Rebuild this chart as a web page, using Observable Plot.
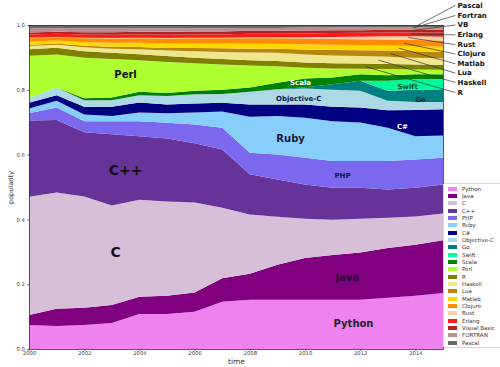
<!DOCTYPE html>
<html><head><meta charset="utf-8">
<script src="https://cdn.jsdelivr.net/npm/d3@7"></script>
<script src="https://cdn.jsdelivr.net/npm/@observablehq/plot@0.6"></script>
<style>
body{margin:0;background:#fff;}
#wrap{position:relative;width:500px;height:367px;font-family:"DejaVu Sans",sans-serif;overflow:hidden;}
#legend{position:absolute;left:443px;top:183px;width:60px;height:165px;background:#fff;border:1px solid #d8d8d8;border-radius:2px;box-sizing:border-box;}
.row{position:absolute;left:4px;height:7px;display:flex;align-items:center;font-size:5.5px;color:#333;white-space:nowrap;}
.sw{width:9px;height:4px;margin-right:5px;flex:none;}
</style></head><body><div id="wrap"></div>
<script>
const years = [2000,2001,2002,2003,2004,2005,2006,2007,2008,2009,2010,2011,2012,2013,2014,2015];
const languages = ["Python","Java","C","C++","PHP","Ruby","C#","Objective-C","Go","Swift","Scala","Perl","R","Haskell","Lua","Matlab","Clojure","Rust","Erlang","Visual Basic","FORTRAN","Pascal"];
const colors = ["#ee82ee","#800080","#d8bfd8","#663399","#7b68ee","#87cefa","#000080","#add8e6","#008080","#00fa9a","#008000","#adff2f","#808000","#f0e68c","#b8860b","#ffd700","#ff8c00","#ffcfa8","#ff1a1a","#b22222","#bc8f8f","#696969"];

const python  = [0.074,0.071,0.074,0.080,0.108,0.108,0.115,0.146,0.152,0.152,0.152,0.152,0.152,0.158,0.164,0.173];
const java    = [0.031,0.053,0.053,0.056,0.053,0.056,0.059,0.072,0.080,0.108,0.129,0.138,0.146,0.154,0.158,0.163];
const c       = [0.365,0.359,0.344,0.307,0.300,0.291,0.278,0.218,0.183,0.148,0.121,0.109,0.104,0.093,0.087,0.082];
const cpp     = [0.235,0.224,0.198,0.220,0.196,0.195,0.183,0.180,0.124,0.115,0.106,0.099,0.096,0.087,0.089,0.090];
const php     = [0.023,0.038,0.034,0.040,0.046,0.048,0.058,0.067,0.067,0.077,0.082,0.082,0.082,0.088,0.087,0.082];
const ruby    = [0.014,0.021,0.021,0.016,0.027,0.030,0.037,0.050,0.111,0.119,0.124,0.123,0.119,0.103,0.072,0.069];
const csharp  = [0.018,0.017,0.024,0.029,0.031,0.027,0.028,0.027,0.038,0.036,0.041,0.045,0.046,0.054,0.081,0.081];
const objc    = [0.015,0.024,0.020,0.020,0.022,0.026,0.028,0.027,0.039,0.047,0.049,0.052,0.052,0.029,0.024,0.022];
const go      = [0,0,0,0,0,0,0,0,0,0,0.004,0.017,0.031,0.031,0.038,0.040];
const swift   = [0,0,0,0,0,0,0,0,0,0,0,0,0,0.031,0.033,0.031];
const scala   = [0,0,0.006,0.008,0.011,0.009,0.011,0.013,0.013,0.020,0.027,0.021,0.020,0.017,0.015,0.015];
const perl    = [0.130,0.102,0.125,0.119,0.097,0.096,0.085,0.078,0.068,0.051,0.033,0.028,0.017,0.019,0.015,0.014];
const rlang   = [0.020,0.021,0.020,0.019,0.019,0.018,0.017,0.017,0.016,0.016,0.016,0.016,0.016,0.016,0.015,0.015];
const haskell = [0.010,0.009,0.012,0.013,0.015,0.017,0.020,0.022,0.024,0.025,0.025,0.024,0.023,0.022,0.021,0.020];
const lua     = [0.004,0.004,0.005,0.006,0.007,0.008,0.010,0.011,0.012,0.013,0.015,0.017,0.018,0.019,0.020,0.020];
const matlab  = [0.010,0.009,0.011,0.012,0.013,0.014,0.015,0.015,0.015,0.015,0.016,0.016,0.016,0.016,0.016,0.016];
const clojure = [0.010,0.009,0.012,0.013,0.014,0.015,0.015,0.016,0.017,0.017,0.018,0.018,0.018,0.018,0.019,0.019];
const rust    = [0.002,0.002,0.002,0.002,0.002,0.002,0.002,0.002,0.003,0.003,0.004,0.006,0.008,0.010,0.011,0.012];
const erlang  = [0.010,0.010,0.010,0.010,0.010,0.010,0.010,0.010,0.011,0.011,0.012,0.012,0.012,0.012,0.012,0.013];
const vb      = [0.006,0.006,0.007,0.008,0.008,0.009,0.009,0.009,0.009,0.009,0.009,0.009,0.008,0.008,0.008,0.008];
const fortran = [0.013,0.011,0.012,0.012,0.011,0.011,0.010,0.010,0.009,0.009,0.009,0.008,0.008,0.008,0.008,0.008];
const pascal  = [0.010,0.010,0.010,0.010,0.010,0.010,0.010,0.010,0.009,0.009,0.008,0.008,0.008,0.007,0.007,0.007];

const xTicks = [2000,2002,2004,2006,2008,2010,2012,2014];
const yTicks = [0,0.2,0.4,0.6,0.8,1.0];

// in-area labels (data coordinates)
const areaLabels = [
  {t:"C++", x:2003.48, y:0.551, size:"L", fill:"#111"},
  {t:"C", x:2003.12, y:0.300, size:"L", fill:"#111"},
  {t:"Perl", x:2003.48, y:0.848, size:"M", fill:"#111"},
  {t:"Ruby", x:2009.46, y:0.650, size:"M", fill:"#1a1a3a"},
  {t:"Java", x:2011.52, y:0.220, size:"M", fill:"#2a0030"},
  {t:"Python", x:2011.74, y:0.080, size:"M", fill:"#222"},
  {t:"Scala", x:2009.82, y:0.824, size:"S", fill:"#fff"},
  {t:"Objective-C", x:2009.75, y:0.774, size:"S", fill:"#0b1a4a"},
  {t:"PHP", x:2011.34, y:0.536, size:"S", fill:"#0b1a4a"},
  {t:"C#", x:2013.51, y:0.687, size:"S", fill:"#fff"},
  {t:"Swift", x:2013.70, y:0.811, size:"S", fill:"#064d2a"},
  {t:"Go", x:2014.17, y:0.771, size:"S", fill:"#062f30"}
];

// callouts on the right
const calloutNames = ["Pascal","Fortran","VB","Erlang","Rust","Clojure","Matlab","Lua","Haskell","R"];
const calloutLabelY = [1.062,1.031,1.0015,0.971,0.941,0.912,0.882,0.853,0.824,0.793];
const calloutTargetX = [2013.99,2013.91,2013.88,2013.84,2013.73,2013.55,2013.37,2013.08,2012.64,2012.17];
const calloutTargetY = [0.9969,0.9923,0.9845,0.9737,0.9628,0.9458,0.9303,0.9133,0.8932,0.8731];
const calloutLineX = 2015.43, calloutTextX = 2015.51;

const seriesValues = [python,java,c,cpp,php,ruby,csharp,objc,go,swift,scala,perl,rlang,haskell,lua,matlab,clojure,rust,erlang,vb,fortran,pascal];
const table = [];
seriesValues.forEach((vals,i)=>years.forEach((yr,j)=>table.push({year:yr, lang:languages[i], value:vals[j]})));

const callouts = calloutNames.map((n,i)=>({name:n, ly:calloutLabelY[i], tx:calloutTargetX[i], ty:calloutTargetY[i]}));

const chart = Plot.plot({
  width:500, height:367,
  marginLeft:29, marginRight:57, marginTop:25, marginBottom:18,
  x:{domain:[2000,2015]},
  y:{domain:[0,1]},
  color:{domain:languages, range:colors},
  style:{fontFamily:"DejaVu Sans, sans-serif", background:"white"},
  marks:[
    Plot.areaY(table, {x:"year", y:"value", z:"lang", fill:"lang", curve:"linear"}),
    Plot.frame({stroke:"#333", strokeWidth:0.8}),
    Plot.axisX({ticks:xTicks, tickFormat:d=>String(d), fontSize:5.3, tickSize:1.5, tickPadding:0.5, label:null, color:"#444"}),
    Plot.axisY({ticks:yTicks, tickFormat:d3.format(".1f"), fontSize:5.3, tickSize:1.5, tickPadding:3, label:null, color:"#444"}),
    Plot.text(["popularity"], {text:d=>d, frameAnchor:"left", dx:-19, rotate:-90, textAnchor:"middle", fontSize:6.5, fill:"#333"}),
    Plot.text(["time"], {text:d=>d, frameAnchor:"bottom", dy:12, lineAnchor:"middle", textAnchor:"middle", fontSize:7.5, fill:"#333"}),
    Plot.text(areaLabels.filter(d=>d.size==="L"), {x:"x", y:"y", text:"t", fill:"fill", fontSize:14, fontWeight:"bold"}),
    Plot.text(areaLabels.filter(d=>d.size==="M"), {x:"x", y:"y", text:"t", fill:"fill", fontSize:10, fontWeight:"bold"}),
    Plot.text(areaLabels.filter(d=>d.size==="S"), {x:"x", y:"y", text:"t", fill:"fill", fontSize:7, fontWeight:"bold"}),
    Plot.link(callouts, {x1:()=>calloutLineX, y1:"ly", x2:"tx", y2:"ty", stroke:"#333", strokeWidth:0.7}),
    Plot.text(callouts, {x:()=>calloutTextX, y:"ly", text:"name", textAnchor:"start", fontSize:7, fontWeight:"bold", fill:"#111"})
  ]
});
const wrap = document.getElementById("wrap");
wrap.appendChild(chart);

const legend = document.createElement("div");
legend.id = "legend";
languages.forEach((name,i)=>{
  const row = document.createElement("div");
  row.className = "row";
  row.style.top = (1.3 + 7.33*i) + "px";
  const sw = document.createElement("span");
  sw.className = "sw";
  sw.style.background = colors[i];
  const tx = document.createElement("span");
  tx.textContent = name;
  row.appendChild(sw); row.appendChild(tx);
  legend.appendChild(row);
});
wrap.appendChild(legend);
</script>
</body></html>
